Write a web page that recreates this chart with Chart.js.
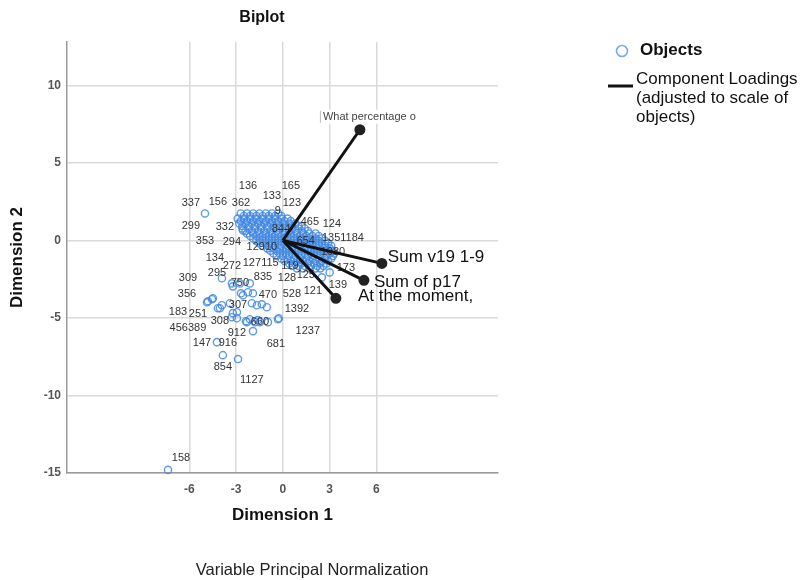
<!DOCTYPE html>
<html>
<head>
<meta charset="utf-8">
<script src="https://cdn.jsdelivr.net/npm/chart.js@4.4.1/dist/chart.umd.min.js"></script>
<style>
  html, body { margin: 0; padding: 0; background: #fff; }
</style>
</head>
<body>
<canvas id="myChart" width="803" height="580"></canvas>
<script>
const xTicks = [-6, -3, 0, 3, 6]
const yTicks = [10, 5, 0, -5, -10, -15]

// dense block of objects around the origin, one row per Dimension 2 value
const clusterRows = [
  [1.74, [-2.7, -2.3, -1.9, -1.5, -1.1, -0.7, -0.3]],
  [1.58, [-2.5, -2.1, -1.7, -1.3, -0.9, -0.5, -0.1]],
  [1.41, [-2.9, -2.5, -2.1, -1.7, -1.3, -0.9, -0.5, -0.1, 0.3]],
  [1.25, [-2.7, -2.3, -1.9, -1.5, -1.1, -0.7, -0.3, 0.1, 0.5]],
  [1.09, [-2.8, -2.4, -2.0, -1.6, -1.2, -0.8, -0.4, 0.0, 0.4, 0.8]],
  [0.93, [-2.6, -2.2, -1.8, -1.4, -1.0, -0.6, -0.2, 0.2, 0.6, 1.0, 1.2]],
  [0.77, [-2.6, -2.2, -1.8, -1.4, -1.0, -0.6, -0.2, 0.2, 0.6, 1.0, 1.4]],
  [0.61, [-2.4, -2.0, -1.6, -1.2, -0.8, -0.4, 0.0, 0.4, 0.8, 1.2, 1.6]],
  [0.45, [-2.3, -1.9, -1.5, -1.1, -0.7, -0.3, 0.1, 0.5, 0.9, 1.3, 1.7, 2.1]],
  [0.29, [-2.1, -1.7, -1.3, -0.9, -0.5, -0.1, 0.3, 0.7, 1.1, 1.5, 1.9, 2.3]],
  [0.13, [-1.9, -1.5, -1.1, -0.7, -0.3, 0.1, 0.5, 0.9, 1.3, 1.7, 2.1, 2.5]],
  [-0.03, [-1.7, -1.3, -0.9, -0.5, -0.1, 0.3, 0.7, 1.1, 1.5, 1.9, 2.3, 2.7]],
  [-0.19, [-1.5, -1.1, -0.7, -0.3, 0.1, 0.5, 0.9, 1.3, 1.7, 2.1, 2.5, 2.9]],
  [-0.35, [-1.3, -0.9, -0.5, -0.1, 0.3, 0.7, 1.1, 1.5, 1.9, 2.3, 2.7, 3.1]],
  [-0.51, [-1.0, -0.6, -0.2, 0.2, 0.6, 1.0, 1.4, 1.8, 2.2, 2.6, 3.0]],
  [-0.67, [-0.8, -0.4, 0.0, 0.4, 0.8, 1.2, 1.6, 2.0, 2.4, 2.8, 3.2]],
  [-0.84, [-0.6, -0.2, 0.2, 0.6, 1.0, 1.4, 1.8, 2.2, 2.6, 3.0, 3.3]],
  [-1.0, [-0.4, 0.0, 0.4, 0.8, 1.2, 1.6, 2.0, 2.4, 2.8, 3.2]],
  [-1.16, [-0.1, 0.3, 0.7, 1.1, 1.5, 1.9, 2.3, 2.7, 3.1]],
  [-1.32, [0.1, 0.5, 0.9, 1.3, 1.7, 2.1, 2.5, 2.9]],
  [-1.48, [0.4, 0.8, 1.2, 1.6, 2.0, 2.4, 2.8]],
  [-1.64, [0.6, 1.0, 1.4, 1.8, 2.2, 2.6]],
  [-1.8, [0.9, 1.3, 1.7, 2.1, 2.4]]
]

const outerObjects = [
  [-5.0, 1.74], [-2.56, 0.64], [-7.37, -14.8],
  [-4.87, -3.99], [-4.49, -3.73], [-4.17, -4.37], [-3.91, -4.18], [-3.4, -4.05],
  [-3.21, -4.69], [-2.95, -5.02], [-2.31, -5.27], [-2.12, -5.08], [-1.79, -5.27],
  [-1.47, -5.27], [-0.96, -5.27], [-0.26, -5.02], [-1.92, -5.85], [-4.23, -6.56],
  [-3.85, -7.4], [-2.88, -7.65], [-3.91, -2.44], [-3.27, -2.77], [-3.21, -2.96],
  [-2.69, -3.41], [-2.24, -3.34], [-1.92, -3.41], [-2.76, -2.77], [-2.12, -2.77],
  [-2.56, -3.54], [-1.67, -4.18], [-1.35, -4.12], [-1.03, -4.31], [-4.81, -3.92],
  [-4.55, -3.79], [-4.04, -4.37], [-2.95, -4.63], [-1.99, -4.05], [-3.27, -4.95],
  [-2.37, -5.21], [-1.6, -5.14], [-0.32, -5.08], [3.0, -2.06], [2.5, -2.38]
]

// case numbers as they sit in the plot
const objectLabels = [
  ['136', -2.24, 3.54], ['165', 0.51, 3.54], ['133', -0.71, 2.89], ['123', 0.58, 2.44],
  ['337', -5.9, 2.44], ['156', -4.17, 2.51], ['362', -2.69, 2.44], ['9', -0.32, 1.93],
  ['299', -5.9, 0.96], ['332', -3.72, 0.9], ['465', 1.73, 1.16], ['124', 3.14, 1.09],
  ['844', -0.13, 0.77], ['353', -5.0, -0.06], ['294', -3.27, -0.13], ['12910', -1.35, -0.39],
  ['1351184', 3.85, 0.13], ['654', 1.47, -0.06], ['134', -4.36, -1.16], ['272', -3.27, -1.67],
  ['127', -1.99, -1.48], ['115', -0.83, -1.48], ['119', 0.45, -1.67], ['1080', 3.21, -0.77],
  ['173', 4.04, -1.8], ['309', -6.09, -2.44], ['295', -4.23, -2.12], ['750', -2.76, -2.77],
  ['835', -1.28, -2.38], ['128', 0.26, -2.44], ['125', 1.47, -2.25], ['139', 3.53, -2.89],
  ['356', -6.15, -3.47], ['470', -0.96, -3.54], ['528', 0.58, -3.47], ['121', 1.92, -3.28],
  ['183', -6.73, -4.63], ['251', -5.45, -4.76], ['307', -2.88, -4.18], ['1392', 0.9, -4.44],
  ['308', -4.04, -5.21], ['456389', -6.09, -5.66], ['660', -1.47, -5.27], ['912', -2.95, -5.98],
  ['1237', 1.6, -5.85], ['147', -5.19, -6.62], ['916', -3.53, -6.62], ['681', -0.45, -6.69],
  ['854', -3.85, -8.17], ['1127', -1.99, -9.0], ['158', -6.54, -14.02]
]

const loadingNames = ['What percentage o', 'Sum v19 1-9', 'Sum of p17', 'At the moment,']
const loadingX = [4.94, 6.35, 5.2, 3.4]
const loadingY = [7.14, -1.48, -2.57, -3.73]

const FONT = 'Arial, "Liberation Sans", sans-serif'
// where each loading name sits relative to its end point, in pixels
const nameOffsets = [[-37, -13], [6, -6], [10, 2], [22, -2]]

const objectPoints = []
clusterRows.forEach(([yv, xs]) => xs.forEach(xv => objectPoints.push({ x: xv, y: yv })))
outerObjects.forEach(([xv, yv]) => objectPoints.push({ x: xv, y: yv }))

const datasets = [{
  label: 'Objects',
  data: objectPoints,
  pointStyle: 'circle',
  pointRadius: 3.6,
  borderWidth: 1.4,
  borderColor: 'rgba(66, 136, 226, 0.85)',
  backgroundColor: 'rgba(0,0,0,0)',
  clip: false,
  order: 2
}]
loadingNames.forEach((name, i) => {
  datasets.push({
    label: name,
    data: [{ x: 0, y: 0 }, { x: loadingX[i], y: loadingY[i] }],
    showLine: true,
    borderColor: '#111',
    borderWidth: 3,
    pointRadius: [0, 4],
    pointBackgroundColor: '#222',
    pointBorderColor: '#222',
    order: 1
  })
})

const biplotText = {
  id: 'biplotText',
  afterDatasetDraw(chart, args) {
    if (args.index !== 0) return
    // labels go over the circles but under the loading lines
    const { ctx, scales: { x, y } } = chart
    ctx.save()
    ctx.font = '11px ' + FONT
    ctx.fillStyle = '#333'
    ctx.textAlign = 'center'
    ctx.textBaseline = 'middle'
    objectLabels.forEach(([t, vx, vy]) => {
      ctx.fillText(t, x.getPixelForValue(vx), y.getPixelForValue(vy))
    })
    ctx.restore()
  },
  afterDraw(chart) {
    const { ctx, scales: { x, y } } = chart
    ctx.save()
    ctx.textBaseline = 'middle'

    // loading names
    loadingNames.forEach((name, i) => {
      const px = x.getPixelForValue(loadingX[i]) + nameOffsets[i][0]
      const py = y.getPixelForValue(loadingY[i]) + nameOffsets[i][1]
      ctx.textAlign = 'left'
      if (i === 0) {
        ctx.font = '11px ' + FONT
        const w = ctx.measureText(name).width
        ctx.fillStyle = '#fff'
        ctx.fillRect(px - 3, py - 7, w + 6, 14)
        ctx.fillStyle = '#bbb'
        ctx.fillRect(px - 3, py - 6, 1, 12)
        ctx.fillStyle = '#444'
        ctx.fillText(name, px, py)
      } else {
        ctx.font = '17px ' + FONT
        ctx.fillStyle = '#111'
        ctx.fillText(name, px, py)
      }
    })

    // titles
    ctx.textAlign = 'center'
    ctx.fillStyle = '#111'
    ctx.font = 'bold 16px ' + FONT
    ctx.fillText('Biplot', 262, 18)
    ctx.font = '16.5px ' + FONT
    ctx.fillStyle = '#222'
    ctx.fillText('Variable Principal Normalization', 312, 570)

    // legend
    ctx.textAlign = 'left'
    ctx.beginPath()
    ctx.arc(622, 51, 5.5, 0, Math.PI * 2)
    ctx.lineWidth = 1.6
    ctx.strokeStyle = 'rgba(110, 165, 235, 0.95)'
    ctx.stroke()
    ctx.fillStyle = '#111'
    ctx.font = 'bold 17px ' + FONT
    ctx.fillText('Objects', 640, 50)
    ctx.font = '17px ' + FONT
    ctx.fillText('Component Loadings', 636, 79)
    ctx.fillText('(adjusted to scale of', 636, 98)
    ctx.fillText('objects)', 636, 117)
    ctx.beginPath()
    ctx.moveTo(608, 86)
    ctx.lineTo(633, 86)
    ctx.lineWidth = 3
    ctx.strokeStyle = '#111'
    ctx.stroke()
    ctx.restore()
  }
}

const ctx = document.getElementById('myChart')

new Chart(ctx, {
  type: 'scatter',
  data: { datasets: datasets },
  options: {
    responsive: false,
    animation: false,
    events: [],
    layout: { padding: { top: 42, right: 305, left: 7, bottom: 54 } },
    plugins: {
      legend: { display: false },
      title: { display: false },
      tooltip: { enabled: false }
    },
    scales: {
      x: {
        type: 'linear',
        min: -13.85,
        max: 13.8,
        afterBuildTicks: (s) => { s.ticks = xTicks.map(v => ({ value: v })) },
        afterFit: (s) => { s.height = 53 },
        grid: { color: '#dadada', lineWidth: 1.5, drawTicks: false },
        border: { color: '#999', width: 1.5 },
        ticks: { padding: 9, color: '#555', font: { family: FONT, size: 12, weight: 'bold' } },
        title: { display: true, text: 'Dimension 1', color: '#111', padding: 0, font: { family: FONT, size: 17, weight: 'bold' } }
      },
      y: {
        type: 'linear',
        min: -15,
        max: 12.8,
        afterBuildTicks: (s) => { s.ticks = yTicks.map(v => ({ value: v })) },
        afterFit: (s) => { s.width = 60 },
        grid: { color: '#dadada', lineWidth: 1.5, drawTicks: false },
        border: { color: '#999', width: 1.5 },
        ticks: { padding: 6, color: '#555', font: { family: FONT, size: 12, weight: 'bold' } },
        title: { display: true, text: 'Dimension 2', color: '#111', padding: 0, font: { family: FONT, size: 17, weight: 'bold' } }
      }
    }
  },
  plugins: [biplotText]
})
</script>
</body>
</html>
